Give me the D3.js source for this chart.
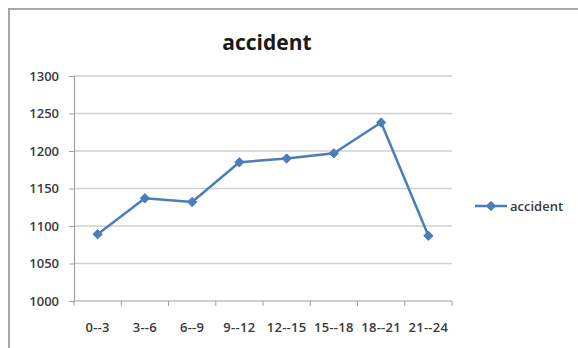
<!DOCTYPE html>
<html>
<head>
<meta charset="utf-8">
<script src="https://cdn.jsdelivr.net/npm/d3@7"></script>
<style>
  html, body { margin: 0; padding: 0; background: #fff; }
  svg { display: block; }
  text { font-family: "Open Sans", "Liberation Sans", sans-serif; }
</style>
</head>
<body>
<svg id="chart" width="578" height="348"></svg>
<script>
// Accidents by three-hour period of the day
const categories = ["0--3", "3--6", "6--9", "9--12", "12--15", "15--18", "18--21", "21--24"];
const accidents = [1089, 1137, 1132, 1185, 1190, 1197, 1238, 1087];
const yTicks = [1000, 1050, 1100, 1150, 1200, 1250, 1300];
const seriesName = "accident";

const svg = d3.select("#chart");
const W = 578, H = 348;
const plot = { left: 74, right: 452, top: 76, bottom: 301 };
const blue = "#4a7ebb";
const labelColor = "#3a3a3a";

// Outer frame of the chart area
svg.append("rect")
  .attr("x", 9).attr("y", 9)
  .attr("width", W + 10).attr("height", H + 10)
  .attr("fill", "#fff")
  .attr("stroke", "#a6a6a6").attr("stroke-width", 2);

// Title
svg.append("text")
  .attr("x", 267).attr("y", 50)
  .attr("text-anchor", "middle")
  .attr("font-size", 21).attr("font-weight", "bold")
  .attr("fill", "#1a1a1a")
  .text(seriesName);

const x = d3.scaleBand().domain(categories).range([plot.left, plot.right]);
const y = d3.scaleLinear().domain([1000, 1300]).range([plot.bottom, plot.top]);

// Horizontal gridlines
svg.append("g")
  .selectAll("line")
  .data(yTicks.filter(v => v > 1000))
  .join("line")
  .attr("x1", plot.left).attr("x2", plot.right)
  .attr("y1", d => y(d)).attr("y2", d => y(d))
  .attr("stroke", "#cfcfcf").attr("stroke-width", 1.5);

// Y axis
const yAxis = svg.append("g")
  .attr("transform", `translate(${plot.left},0)`)
  .call(d3.axisLeft(y).tickValues(yTicks).tickSize(5).tickPadding(10).tickFormat(d3.format("d")));
yAxis.select(".domain").attr("stroke", "#a0a0a0").attr("stroke-width", 1.2);
yAxis.selectAll(".tick line").attr("stroke", "#a0a0a0");
yAxis.selectAll(".tick text")
  .attr("font-size", 13).attr("font-weight", 600).attr("fill", labelColor)
  .style("font-family", "'Open Sans', sans-serif");

// X axis with ticks at band boundaries
const xAxis = svg.append("g")
  .attr("transform", `translate(0,${plot.bottom})`);
xAxis.append("line")
  .attr("x1", plot.left).attr("x2", plot.right)
  .attr("y1", 0).attr("y2", 0)
  .attr("stroke", "#a0a0a0").attr("stroke-width", 1.2);
const boundaries = categories.map(c => x(c)).concat([x(categories[categories.length - 1]) + x.bandwidth()]);
xAxis.selectAll("line.tk")
  .data(boundaries)
  .join("line").attr("class", "tk")
  .attr("x1", d => d).attr("x2", d => d)
  .attr("y1", 0).attr("y2", 5)
  .attr("stroke", "#a0a0a0");
xAxis.selectAll("text")
  .data(categories)
  .join("text")
  .attr("x", d => x(d) + x.bandwidth() / 2)
  .attr("y", 31)
  .attr("text-anchor", "middle")
  .attr("font-size", 13).attr("font-weight", 600).attr("fill", labelColor)
  .attr("letter-spacing", 0.3)
  .text(d => d);

// Series line
const pts = categories.map((c, i) => [x(c) + x.bandwidth() / 2, y(accidents[i])]);
svg.append("path")
  .attr("d", d3.line()(pts))
  .attr("fill", "none")
  .attr("stroke", blue).attr("stroke-width", 2.5)
  .attr("stroke-linejoin", "round");

// Diamond markers
const diamond = d3.symbol().type(d3.symbolDiamond2).size(55);
svg.append("g")
  .selectAll("path")
  .data(pts)
  .join("path")
  .attr("transform", d => `translate(${d[0]},${d[1]})`)
  .attr("d", diamond)
  .attr("fill", blue).attr("stroke", blue).attr("stroke-width", 1);

// Legend
const lg = svg.append("g").attr("transform", "translate(475,206)");
lg.append("line").attr("x1", 0).attr("x2", 32).attr("y1", 0).attr("y2", 0)
  .attr("stroke", blue).attr("stroke-width", 2.5);
lg.append("path").attr("transform", "translate(16,0)").attr("d", diamond)
  .attr("fill", blue).attr("stroke", blue);
lg.append("text").attr("x", 35).attr("y", 4.5)
  .attr("font-size", 13).attr("font-weight", 600).attr("fill", labelColor)
  .text(seriesName);
</script>
</body>
</html>
